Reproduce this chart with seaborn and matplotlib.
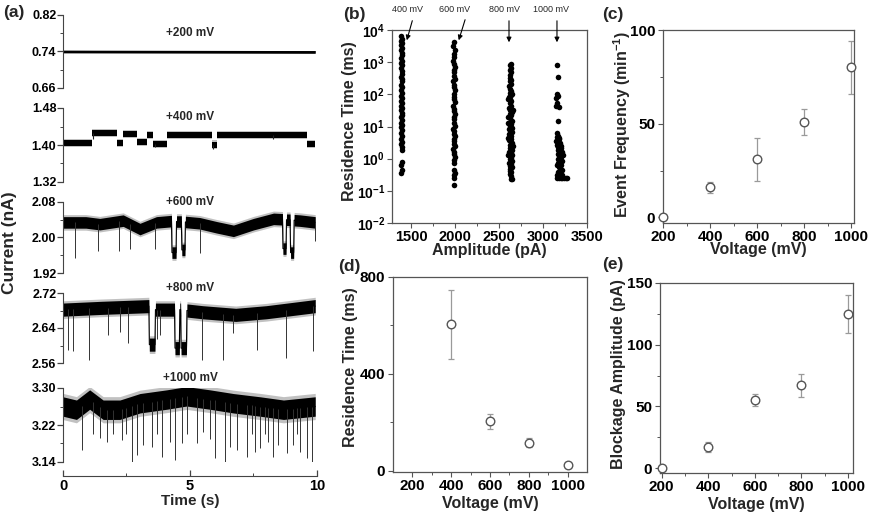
import numpy as np
import pandas as pd
import matplotlib
matplotlib.use("Agg")
import matplotlib.pyplot as plt
import seaborn as sns

# ---------------- data ----------------
# (a) current traces: baseline levels (nA) and downward spikes (time s, lowest current nA)
b200_t = [0, 9.93]
b200_v = [0.740, 0.739]

t400_edges = [0, 1.13, 2.11, 2.38, 2.90, 3.32, 3.56, 4.10, 5.85, 6.05, 9.59, 9.93]
l400_levels = [1.405, 1.425, 1.404, 1.424, 1.406, 1.421, 1.403, 1.422, 1.401, 1.421, 1.403, 1.403]
s400 = [(1.20, 1.412), (3.62, 1.396), (5.92, 1.392), (8.28, 1.414)]

b600_t = [0, 0.9, 1.45, 2.37, 3.03, 3.68, 4.27, 4.29, 4.45, 4.47, 4.66, 4.68, 4.80, 4.82, 5.39,
          6.05, 6.71, 7.5, 8.29, 8.64, 8.66, 8.78, 8.80, 8.94, 8.96, 9.08, 9.10, 9.34, 9.93]
b600_v = [2.034, 2.034, 2.030, 2.038, 2.019, 2.034, 2.037, 1.966, 1.966, 2.036, 2.036, 1.972, 1.972, 2.035, 2.032,
          2.023, 2.015, 2.030, 2.042, 2.041, 1.975, 1.975, 2.040, 2.040, 1.966, 1.966, 2.039, 2.038, 2.034]
s600 = [(0.46, 1.954), (1.38, 1.970), (2.21, 1.970), (2.63, 1.973), (3.62, 1.973), (5.39, 1.966), (9.93, 1.992)]

b800_t = [0, 1.5, 3.38, 3.40, 3.62, 3.64, 4.39, 4.41, 4.58, 4.60, 4.63, 4.65, 4.86, 4.88, 5.5, 6.8, 8.0, 9.93]
b800_v = [2.682, 2.686, 2.690, 2.602, 2.602, 2.682, 2.682, 2.594, 2.594, 2.682, 2.682, 2.594, 2.594, 2.680,
          2.676, 2.670, 2.676, 2.690]
s800 = [(0.20, 2.590), (0.39, 2.587), (1.03, 2.568), (1.78, 2.625), (2.26, 2.630), (2.54, 2.606), (3.70, 2.615),
        (3.82, 2.625), (5.49, 2.568), (6.29, 2.568), (6.71, 2.628), (7.63, 2.590), (8.79, 2.571), (9.84, 2.587)]

b1000_t = [0, 0.53, 1.05, 1.58, 2.24, 3.03, 4.08, 4.87, 5.79, 6.71, 7.76, 8.68, 9.93]
b1000_v = [3.260, 3.253, 3.275, 3.253, 3.253, 3.267, 3.275, 3.282, 3.275, 3.267, 3.260, 3.253, 3.260]
s1000 = [(0.73, 3.166), (1.20, 3.200), (1.46, 3.191), (1.72, 3.184), (1.98, 3.200), (2.31, 3.188), (2.50, 3.200),
         (2.70, 3.140), (2.90, 3.155), (3.16, 3.177), (3.49, 3.173), (3.69, 3.200), (3.88, 3.151), (4.21, 3.184),
         (4.41, 3.144), (4.67, 3.180), (4.87, 3.200), (5.26, 3.180), (5.52, 3.205), (5.80, 3.190), (5.98, 3.148),
         (6.38, 3.140), (6.57, 3.173), (6.84, 3.166), (7.23, 3.151), (7.43, 3.200), (7.56, 3.162), (7.76, 3.170),
         (7.95, 3.200), (8.08, 3.184), (8.28, 3.151), (8.48, 3.177), (8.81, 3.159), (9.07, 3.177), (9.20, 3.200),
         (9.33, 3.162), (9.59, 3.148), (9.79, 3.140)]

trace_labels = ["+200 mV", "+400 mV", "+600 mV", "+800 mV", "+1000 mV"]
trace_ylims = [(0.66, 0.82), (1.32, 1.48), (1.92, 2.08), (2.56, 2.72), (3.14, 3.30)]

# (b) scatter: (amplitude pA, log10 residence time ms)
g400 = [(1388, 3.80), (1395, 3.72), (1382, 3.66), (1392, 3.60), (1386, 3.52), (1398, 3.45), (1384, 3.38),
        (1390, 3.30), (1396, 3.22), (1380, 3.12), (1392, 3.05), (1386, 2.98), (1398, 2.90), (1384, 2.82),
        (1390, 2.72), (1394, 2.62), (1382, 2.55), (1390, 2.47), (1398, 2.40), (1386, 2.30), (1392, 2.22),
        (1380, 2.12), (1394, 2.05), (1388, 1.95), (1396, 1.88), (1384, 1.80), (1392, 1.72), (1386, 1.65),
        (1398, 1.57), (1382, 1.50), (1390, 1.42), (1396, 1.35), (1384, 1.28), (1392, 1.20), (1388, 1.12),
        (1398, 1.05), (1384, 0.98), (1392, 0.90), (1388, 0.80), (1394, 0.70), (1386, 0.62), (1392, 0.52),
        (1388, 0.45), (1396, 0.35), (1390, 0.28), (1392, -0.10), (1386, -0.20), (1390, -0.35), (1386, -0.45)]
g600 = [(1988, 3.62), (1980, 3.50), (1992, 3.38), (1984, 3.25), (1990, 3.15), (1978, 3.05), (1988, 2.95),
        (1994, 2.85), (1982, 2.75), (1990, 2.68), (1986, 2.58), (1994, 2.48), (1980, 2.40), (1990, 2.30),
        (1986, 2.22), (1994, 2.12), (1982, 2.02), (1990, 1.92), (1986, 1.85), (1994, 1.75), (1980, 1.65),
        (1990, 1.55), (1986, 1.48), (1994, 1.40), (1982, 1.30), (1990, 1.22), (1986, 1.12), (1994, 1.02),
        (1980, 0.92), (1990, 0.85), (1986, 0.78), (1994, 0.70), (1982, 0.62), (1990, 0.55), (1986, 0.45),
        (1994, 0.38), (1980, 0.30), (1990, 0.22), (1986, 0.15), (1994, 0.05), (1984, -0.05), (1990, -0.15),
        (1984, -0.35), (1992, -0.45), (1986, -0.52), (1990, -0.60), (1988, -0.82)]
g800 = [(2630, 2.95), (2625, 2.90), (2635, 2.82), (2620, 2.75), (2632, 2.68), (2628, 2.60), (2618, 2.52),
        (2636, 2.45), (2624, 2.40), (2632, 2.33), (2616, 2.25), (2628, 2.18), (2640, 2.10), (2622, 2.05),
        (2634, 1.98), (2614, 1.92), (2628, 1.85), (2640, 1.78), (2620, 1.72), (2632, 1.65), (2612, 1.58),
        (2626, 1.52), (2642, 1.45), (2618, 1.40), (2634, 1.35), (2600, 1.30), (2628, 1.25), (2644, 1.18),
        (2614, 1.12), (2632, 1.08), (2620, 1.02), (2640, 0.98), (2608, 0.92), (2626, 0.88), (2644, 0.82),
        (2616, 0.78), (2634, 0.72), (2622, 0.68), (2640, 0.62), (2610, 0.58), (2630, 0.52), (2646, 0.48),
        (2618, 0.42), (2636, 0.38), (2624, 0.32), (2642, 0.28), (2612, 0.22), (2630, 0.18), (2646, 0.12),
        (2620, 0.08), (2638, 0.02), (2626, -0.02), (2644, -0.08), (2616, -0.12), (2634, -0.18), (2622, -0.22),
        (2640, -0.28), (2628, -0.32), (2618, -0.38), (2636, -0.42), (2626, -0.48), (2632, -0.55), (2630, -0.62),
        (2650, -0.62), (2596, 1.12), (2652, 1.50), (2650, 0.95), (2604, 0.65), (2652, 0.40), (2606, 0.10),
        (2650, -0.25), (2650, 2.00), (2606, 1.85)]
g1000 = [(3160, 2.92), (3165, 2.55), (3162, 2.02), (3150, 1.90), (3172, 1.95), (3145, 1.65), (3158, 1.72),
         (3178, 1.62), (3168, 1.18), (3155, 0.80), (3170, 0.72), (3160, 0.66), (3180, 0.60), (3150, 0.55),
         (3175, 0.50), (3195, 0.48), (3162, 0.42), (3185, 0.38), (3200, 0.32), (3170, 0.28), (3192, 0.22),
         (3210, 0.20), (3165, 0.15), (3185, 0.10), (3205, 0.06), (3175, 0.00), (3195, -0.04), (3215, -0.08),
         (3168, -0.12), (3188, -0.16), (3208, -0.20), (3178, -0.25), (3198, -0.30), (3218, -0.34), (3172, -0.40),
         (3192, -0.45), (3212, -0.50), (3160, -0.60), (3180, -0.60), (3200, -0.60), (3220, -0.60), (3240, -0.60),
         (3260, -0.60), (3275, -0.60), (3165, 0.35), (3160, -0.20), (3205, 0.40), (3225, 0.10), (3185, 0.65),
         (3162, -0.50)]

# (c)-(e)
voltage = [200, 400, 600, 800, 1000]
event_freq = [0, 16, 31, 51, 80]
event_freq_err = [0, 3, 11.5, 7, 14]
res_voltage = [400, 600, 800, 1000]
res_time = [605, 204, 116, 22]
res_time_err = [143, 30, 18, 5]
block_amp = [0, 17, 55, 67, 125]
block_amp_err = [0, 4, 5, 9.5, 15.5]

# ---------------- style ----------------
sns.set_style("ticks")
plt.rcParams["font.family"] = ["Liberation Sans", "DejaVu Sans"]
plt.rcParams["font.weight"] = "bold"
plt.rcParams["axes.labelweight"] = "bold"
plt.rcParams["mathtext.fontset"] = "custom"
plt.rcParams["mathtext.rm"] = "Liberation Sans:bold"
plt.rcParams["mathtext.bf"] = "Liberation Sans:bold"
plt.rcParams["mathtext.it"] = "Liberation Sans:bold:italic"

W, H = 870, 519
fig = plt.figure(figsize=(W / 100, H / 100), dpi=100)


def add_ax(x0, y0, x1, y1):
    return fig.add_axes([x0 / W, 1 - y1 / H, (x1 - x0) / W, (y1 - y0) / H])


SP = "#555555"

# ---------------- (a) ----------------
a_px = [(15, 88), (108, 182), (202, 273), (293, 363), (388, 462)]
label_y = [0.75, 0.88, 1.0, 1.07, 1.135]
bands = [0.003, 0.0065, 0.013, 0.015, 0.021]
traces = [(b200_t, b200_v, []), (None, None, s400), (b600_t, b600_v, s600),
          (b800_t, b800_v, s800), (b1000_t, b1000_v, s1000)]

axes_a = []
for i, ((top, bot), (lo, hi)) in enumerate(zip(a_px, trace_ylims)):
    ax = add_ax(63, top, 317, bot)
    axes_a.append(ax)
    ax.set_xlim(0, 10)
    ax.set_ylim(lo, hi)
    bt, bv, spikes = traces[i]
    hw = bands[i]
    if i == 1:
        e = np.array(t400_edges)
        lv = np.array(l400_levels)
        ax.fill_between(e, lv - hw * 1.35, lv + hw * 1.35, step="post", color="#999999", alpha=0.6, lw=0)
        ax.fill_between(e, lv - hw, lv + hw, step="post", color="black", lw=0)
        for (ts, yb) in spikes:
            top_v = lv[np.searchsorted(e, ts, side="right") - 1]
            ax.vlines(ts, yb, top_v, color="#222222", lw=0.8)
    else:
        bt = np.array(bt)
        bv = np.array(bv)
        if i > 0:
            ax.fill_between(bt, bv - hw * 1.35, bv + hw * 1.35, color="#999999", alpha=0.6, lw=0)
        ax.fill_between(bt, bv - hw, bv + hw, color="black", lw=0)
        sns.lineplot(x=bt, y=bv, ax=ax, color="black", lw=0.8, estimator=None, sort=False)
        for (ts, yb) in spikes:
            ax.vlines(ts, yb, np.interp(ts, bt, bv), color="#333333", lw=0.7)
    mid = (lo + hi) / 2
    q = (hi - lo) / 4
    ax.set_yticks([lo, mid, hi])
    ax.set_yticks([lo + q, mid + q], minor=True)
    ax.set_yticklabels([f"{v:.2f}" for v in (lo, mid, hi)])
    for s in ["top", "right"]:
        ax.spines[s].set_visible(False)
    ax.spines["left"].set_color("#444444")
    ax.tick_params(axis="y", which="major", direction="out", length=4, width=0.9, pad=0.8,
                   colors="#444444", labelcolor="black", labelsize=9)
    ax.tick_params(axis="y", which="minor", direction="out", length=2, width=0.7, colors="#444444")
    if i < 4:
        ax.spines["bottom"].set_visible(False)
        ax.set_xticks([])
    else:
        ax.spines["bottom"].set_position(("outward", 10))
        ax.spines["bottom"].set_color("#444444")
        ax.set_xticks([0, 5, 10])
        ax.set_xticks([2.5, 7.5], minor=True)
        ax.tick_params(axis="x", which="major", direction="in", length=4, width=0.9, pad=2,
                       colors="#444444", labelcolor="black", labelsize=10.5)
        ax.tick_params(axis="x", which="minor", direction="in", length=2, width=0.7, colors="#444444")
        ax.set_xlabel("Time (s)", fontsize=11)
        ax.xaxis.set_label_coords(0.5, -0.43)
    ax.set_ylabel("")
    ax.text(0.5, label_y[i], trace_labels[i], transform=ax.transAxes, ha="center", va="center",
            fontsize=8.5, fontweight="bold")
    ax.patch.set_alpha(0)

fig.text(10 / W, 1 - 243 / H, "Current (nA)", rotation=90, ha="center", va="center",
         fontsize=12.5, fontweight="bold")


def box_style(ax, labelsize=11):
    for s in ax.spines.values():
        s.set_color(SP)
        s.set_linewidth(0.9)
    ax.tick_params(which="major", direction="out", length=3.5, width=0.8, colors=SP,
                   labelcolor="black", labelsize=labelsize)
    ax.tick_params(axis="x", which="major", pad=1.5)
    ax.tick_params(axis="y", which="major", pad=2)
    ax.tick_params(which="minor", direction="out", length=2, width=0.7, colors=SP)


# ---------------- (b) ----------------
axb = add_ax(392, 30, 587, 223)
frames = []
for name, grp in [("400", g400), ("600", g600), ("800", g800), ("1000", g1000)]:
    df = pd.DataFrame(grp, columns=["amp", "logt"])
    df["group"] = name
    frames.append(df)
dfb = pd.concat(frames, ignore_index=True)
dfb["t"] = 10 ** dfb["logt"]
sns.scatterplot(data=dfb, x="amp", y="t", ax=axb, color="black", s=16, linewidth=0, zorder=3)
axb.set_yscale("log")
axb.set_ylim(1e-2, 1e4)
axb.set_xlim(1280, 3500)
axb.set_xticks([1500, 2000, 2500, 3000, 3500])
axb.set_xticks([1750, 2250, 2750, 3250], minor=True)
axb.set_yticks([1e-2, 1e-1, 1, 1e1, 1e2, 1e3, 1e4])
axb.yaxis.set_minor_locator(matplotlib.ticker.NullLocator())
box_style(axb, 10.5)
axb.tick_params(axis="y", which="major", labelsize=10, pad=1.5)
axb.set_xlabel("Amplitude (pA)", fontsize=11.5)
axb.set_ylabel("Residence Time (ms)", fontsize=11.5)
axb.xaxis.set_label_coords(0.5, -0.105)
axb.yaxis.set_label_coords(-0.18, 0.53)

ann = [("400 mV", (0.077, 1.104), (0.108, 1.062), (0.072, 0.933)),
       ("600 mV", (0.323, 1.104), (0.379, 1.067), (0.338, 0.933)),
       ("800 mV", (0.579, 1.104), (0.600, 1.062), (0.600, 0.922)),
       ("1000 mV", (0.815, 1.104), (0.846, 1.062), (0.846, 0.922))]
for txt, tpos, tail, head in ann:
    axb.text(tpos[0], tpos[1], txt, transform=axb.transAxes, ha="center", va="center",
             fontsize=6.5, fontweight="normal")
    axb.annotate("", xy=head, xytext=tail, xycoords="axes fraction", textcoords="axes fraction",
                 arrowprops=dict(arrowstyle="-|>", color="black", lw=0.8, mutation_scale=7),
                 annotation_clip=False)


def err_scatter(ax, x, y, yerr):
    ax.errorbar(x, y, yerr=yerr, fmt="none", ecolor="#9a9a9a", elinewidth=0.9, capsize=2,
                capthick=0.9, zorder=2)
    sns.scatterplot(x=x, y=y, ax=ax, marker="o", s=38, color="white", edgecolor="#555555",
                    linewidth=1.0, zorder=3, clip_on=False)


# ---------------- (c) ----------------
axc = add_ax(663, 30, 854, 223)
err_scatter(axc, voltage, event_freq, event_freq_err)
axc.set_xlim(198, 1013)
axc.set_ylim(-3, 100)
axc.set_xticks([200, 400, 600, 800, 1000])
axc.set_xticks([300, 500, 700, 900], minor=True)
axc.set_yticks([0, 50, 100])
axc.set_yticks([25, 75], minor=True)
box_style(axc, 11)
axc.set_xlabel("Voltage (mV)", fontsize=11.5)
axc.set_ylabel("Event Frequency (min$^{-1}$)", fontsize=11.5)
axc.xaxis.set_label_coords(0.5, -0.10)
axc.yaxis.set_label_coords(-0.157, 0.51)

# ---------------- (d) ----------------
axd = add_ax(393, 277, 587, 472)
err_scatter(axd, res_voltage, res_time, res_time_err)
axd.set_xlim(100, 1100)
axd.set_ylim(-5, 800)
axd.set_xticks([200, 400, 600, 800, 1000])
axd.set_xticks([300, 500, 700, 900], minor=True)
axd.set_yticks([0, 400, 800])
axd.set_yticks([200, 600], minor=True)
box_style(axd, 11)
axd.set_xlabel("Voltage (mV)", fontsize=11.5)
axd.set_ylabel("Residence Time (ms)", fontsize=11.5)
axd.xaxis.set_label_coords(0.5, -0.125)
axd.yaxis.set_label_coords(-0.18, 0.54)

# ---------------- (e) ----------------
axe = add_ax(660, 283, 853, 473)
err_scatter(axe, voltage, block_amp, block_amp_err)
axe.set_xlim(193, 1021)
axe.set_ylim(-4, 150)
axe.set_xticks([200, 400, 600, 800, 1000])
axe.set_xticks([300, 500, 700, 900], minor=True)
axe.set_yticks([0, 50, 100, 150])
axe.set_yticks([25, 75, 125], minor=True)
box_style(axe, 11)
axe.set_xlabel("Voltage (mV)", fontsize=11.5)
axe.set_ylabel("Blockage Amplitude (pA)", fontsize=11.5)
axe.xaxis.set_label_coords(0.5, -0.124)
axe.yaxis.set_label_coords(-0.176, 0.52)

# panel letters
for lab, x, y in [("(a)", 3, 13), ("(b)", 343, 15), ("(c)", 602, 15), ("(d)", 338, 267), ("(e)", 602, 265)]:
    fig.text(x / W, 1 - y / H, lab, ha="left", va="center", fontsize=12.5, fontweight="bold")

fig.savefig("out.png", dpi=100)
